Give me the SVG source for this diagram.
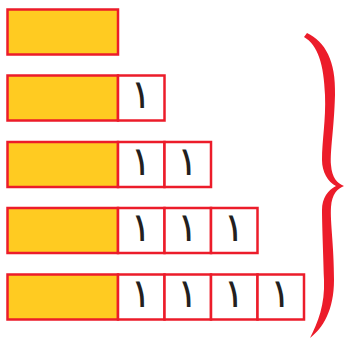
<svg xmlns="http://www.w3.org/2000/svg" width="345" height="340" viewBox="0 0 345 340">
<style>
.y{fill:#FFCB21;stroke:#EC1C2A;stroke-width:2.5}
.w{fill:#FFFFFF;stroke:#EC1C2A;stroke-width:2.5}
.t{font-family:"DejaVu Sans","Noto Sans",sans-serif;font-size:40px;fill:#231F20;text-anchor:middle}
</style>
<rect width="345" height="340" fill="#FFFFFF"/>
<g id="row1">
<rect class="y" x="7.5" y="9.5" width="110.5" height="45"/>
</g>
<g id="row2">
<rect class="y" x="7.5" y="75.5" width="110.5" height="45"/>
<rect class="w" x="118" y="75.5" width="46.5" height="45"/><text class="t" x="141" y="108">١</text>
</g>
<g id="row3">
<rect class="y" x="7.5" y="142" width="110.5" height="45"/>
<rect class="w" x="118" y="142" width="46.5" height="45"/><text class="t" x="141" y="174.5">١</text>
<rect class="w" x="164.5" y="142" width="46.5" height="45"/><text class="t" x="187.5" y="174.5">١</text>
</g>
<g id="row4">
<rect class="y" x="7.5" y="208" width="110.5" height="45"/>
<rect class="w" x="118" y="208" width="46.5" height="45"/><text class="t" x="141" y="240.5">١</text>
<rect class="w" x="164.5" y="208" width="46.5" height="45"/><text class="t" x="187.5" y="240.5">١</text>
<rect class="w" x="211" y="208" width="46.5" height="45"/><text class="t" x="234" y="240.5">١</text>
</g>
<g id="row5">
<rect class="y" x="7.5" y="274.5" width="110.5" height="45"/>
<rect class="w" x="118" y="274.5" width="46.5" height="45"/><text class="t" x="141" y="307">١</text>
<rect class="w" x="164.5" y="274.5" width="46.5" height="45"/><text class="t" x="187.5" y="307">١</text>
<rect class="w" x="211" y="274.5" width="46.5" height="45"/><text class="t" x="234" y="307">١</text>
<rect class="w" x="257.5" y="274.5" width="46.5" height="45"/><text class="t" x="280.5" y="307">١</text>
</g>
<g id="brace">
<path fill="#EC1C2A" d="M307,33 C325,42 336,60 335,95 C334,130 330,150 331,165 C332,178 337,183 344,186 C337,189 332,194 331,207 C330,222 334,245 334,280 C334,310 323,328 310,338 C318,322 325,305 324,280 C323,245 322,222 322,210 C322,198 328,190 336,186 C328,182 322,172 322,160 C322,140 326,120 325,95 C324,65 318,45 304,37 Z"/>
</g>
</svg>
